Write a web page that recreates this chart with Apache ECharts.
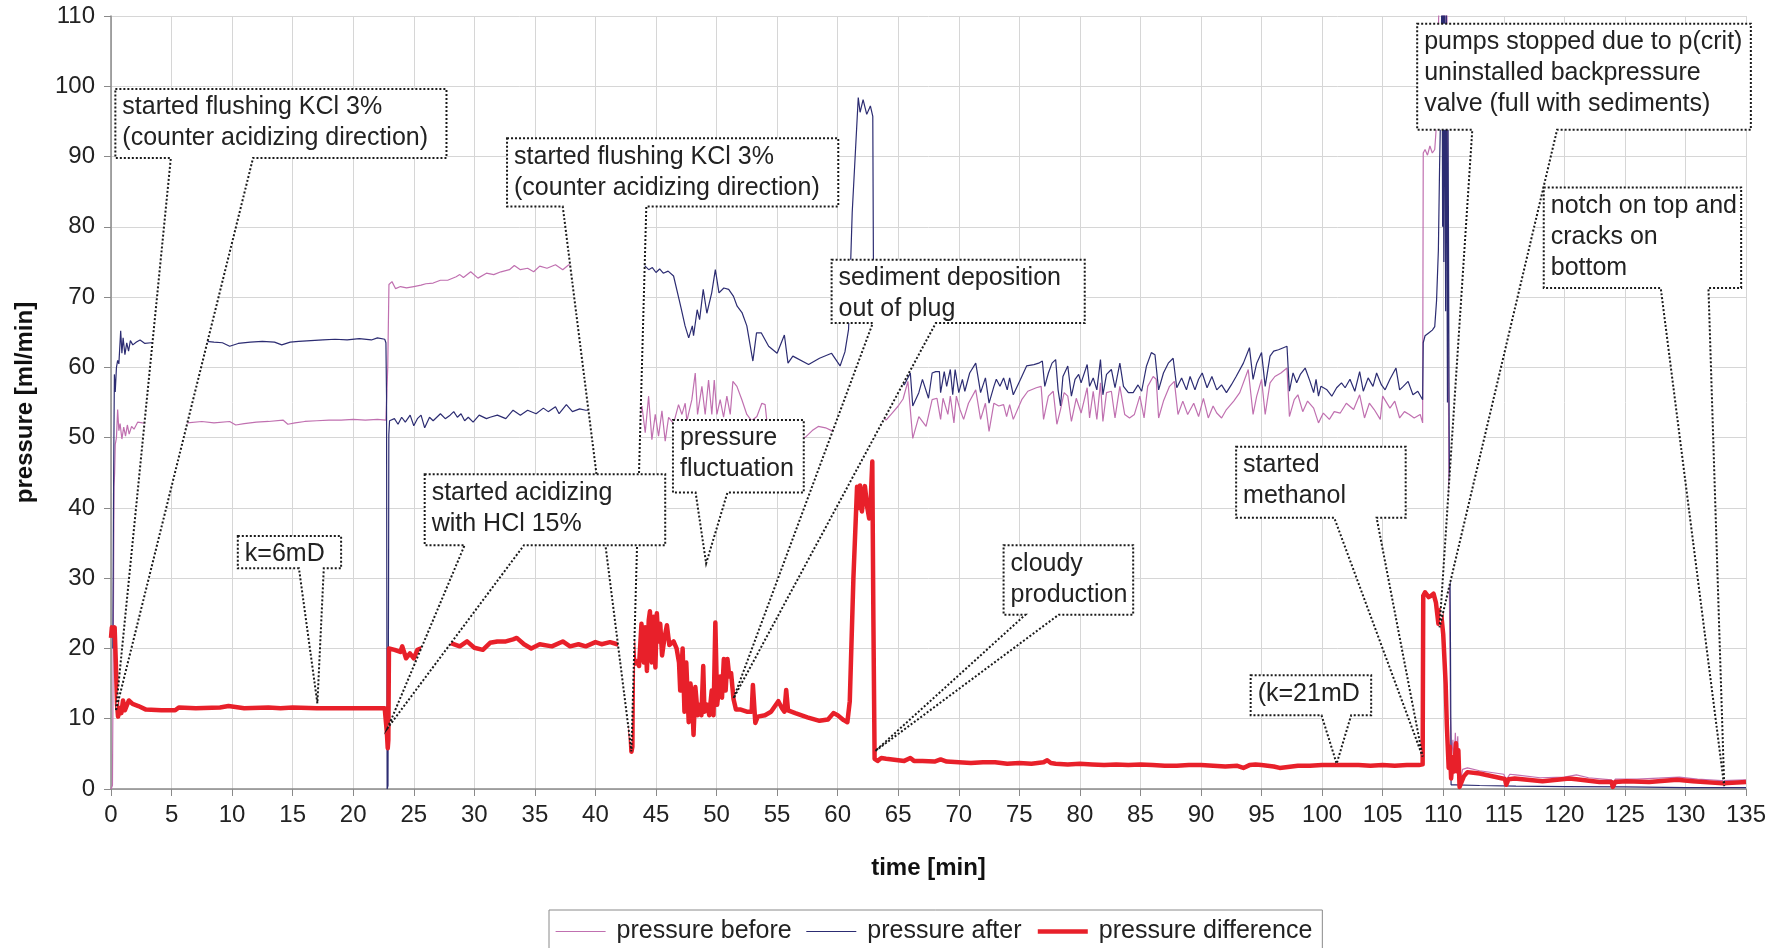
<!DOCTYPE html>
<html><head><meta charset="utf-8">
<script src="https://cdn.jsdelivr.net/npm/echarts@6/dist/echarts.min.js"></script>
<style>html,body{margin:0;padding:0;background:#fff}#c{width:1784px;height:948px}</style>
</head><body><div id="c"></div>
<script>
const FONT = '"Liberation Sans", Arial, sans-serif';
const seriesNames = ['pressure before', 'pressure after', 'pressure difference'];

const pressureBefore = [[0.0,0],[0.12,0.5],[0.2,25],[0.25,43],[0.3,45],[0.35,49],[0.45,50],[0.55,54],[0.65,51],[0.75,52],[0.9,49.8],[1.05,51.5],[1.2,50.2],[1.35,51.8],[1.5,50.5],[1.7,51.6],[1.9,51.2],[2.2,52.2],[2.6,52.1],[3.5,52.0],[5,52.1],[6.3,52.1],[7.5,52.3],[8.5,52.1],[9.8,52.3],[10.3,51.8],[11,52.0],[12,52.2],[13,52.3],[14.2,52.5],[14.6,51.9],[15.2,52.1],[16,52.3],[17,52.4],[18,52.5],[19,52.5],[20,52.6],[21,52.5],[22,52.6],[22.7,52.5],[22.85,60],[22.95,71.8],[23.2,72.2],[23.5,71.2],[23.9,71.5],[24.4,71.3],[25.0,71.5],[25.6,71.7],[26.0,71.9],[26.6,72.0],[27.2,72.4],[27.8,72.4],[28.5,72.9],[28.8,73.2],[29.1,72.8],[29.7,73.6],[30.3,72.7],[31.0,73.4],[31.6,73.2],[32.2,73.6],[32.9,73.9],[33.3,74.5],[33.8,73.9],[34.4,74.1],[34.9,73.6],[35.4,74.4],[36.0,74.1],[36.7,74.6],[37.3,73.9],[37.8,74.6],[38.5,74.3],[40,74.5],[41.5,74.4],[42.5,74.5],[42.9,62],[43.1,53],[43.5,52],[43.84,54.5],[44.11,50.7],[44.39,55.9],[44.66,49.7],[44.94,53.3],[45.21,50.2],[45.49,53.8],[45.76,49.5],[46.04,52.9],[46.45,52.0],[46.86,54.7],[47.14,53.3],[47.41,54.9],[47.55,52.4],[47.96,55.4],[48.24,59.2],[48.43,53.3],[48.79,57.3],[49.06,53.3],[49.34,58.2],[49.61,53.3],[49.81,58.2],[50.03,53.3],[50.3,55.4],[50.58,52.9],[50.85,55.9],[51.13,53.3],[51.35,58.0],[51.68,57.3],[52.09,55.4],[52.5,53.3],[52.9,52.4],[53.33,53.0],[53.74,54.9],[54.01,54.7],[54.15,52.4],[54.6,52.0],[55.5,51.0],[56.5,50.5],[57.3,50.0],[57.9,51.0],[58.4,51.6],[59.0,51.4],[59.5,51.0],[60.2,51.5],[61.0,53],[61.5,55],[62.5,54],[63.0,52],[63.5,53],[64,52.5],[64.5,53.5],[65.0,54.5],[65.4,55.5],[65.8,58.0],[66.2,49.9],[66.7,53.0],[67.3,51.6],[67.8,55.4],[68.2,55.6],[68.5,52.6],[68.7,55.6],[69.1,53.3],[69.3,55.9],[69.6,52.1],[69.8,55.9],[70.1,54.0],[70.4,52.6],[70.8,54.9],[71.4,56.8],[71.8,52.6],[72.2,54.9],[72.5,50.9],[72.9,54.9],[73.3,54.5],[73.7,54.7],[73.95,53.0],[74.2,54.7],[74.5,52.6],[75.2,55.4],[75.7,56.6],[76.4,57.1],[76.8,57.3],[77.0,52.6],[77.4,55.9],[77.8,56.6],[78.1,51.9],[78.4,54.0],[78.7,56.4],[79.0,55.9],[79.3,52.3],[79.7,55.6],[80.1,53.5],[80.6,57.1],[80.8,52.8],[81.1,56.6],[81.4,52.6],[81.7,57.8],[81.9,52.3],[82.2,56.4],[82.6,56.6],[82.9,52.8],[83.3,57.3],[83.7,53.3],[84.1,52.8],[84.5,53.3],[84.95,55.9],[85.3,52.8],[85.6,57.3],[86.05,58.7],[86.3,58.3],[86.5,52.8],[86.9,55.2],[87.4,57.3],[87.8,58.0],[88.1,53.3],[88.5,55.2],[88.9,53.3],[89.4,54.9],[89.8,53.0],[90.2,55.6],[90.6,52.8],[91.0,54.5],[91.3,53.5],[91.7,52.8],[92.1,54.0],[92.7,55.2],[93.2,56.4],[93.9,59.7],[94.3,53.3],[94.6,55.9],[95.0,58.3],[95.3,53.3],[95.7,57.8],[96.1,58.7],[96.6,59.2],[97.1,59.9],[97.3,53.0],[97.7,55.4],[98.0,56.1],[98.4,53.7],[98.8,55.2],[99.3,54.2],[99.7,52.1],[100.1,53.5],[100.6,52.6],[101.0,53.7],[101.5,53.5],[102.0,54.9],[102.6,54.0],[103.1,56.1],[103.5,52.8],[103.9,54.9],[104.3,54.0],[104.8,52.6],[105.0,55.9],[105.6,54.2],[106.0,55.2],[106.4,52.8],[106.8,53.7],[107.2,53.3],[107.6,52.8],[108.1,53.3],[108.3,52.1],[108.35,90.5],[108.5,91.0],[108.7,90.2],[108.9,91.5],[109.1,90.5],[109.3,91.0],[109.4,93.5],[109.5,100],[109.6,108],[109.7,116],[109.8,112],[109.9,116],[110.0,105],[110.1,116],[110.2,100],[110.3,114],[110.4,70],[110.5,30],[110.6,10],[110.7,5],[110.8,7],[110.9,3.5],[111.0,8],[111.1,4],[111.2,7.5],[111.3,1.5],[111.4,1.0],[111.6,2.8],[112,3.0],[113,2.6],[115,2.1],[115.2,1.3],[115.5,2.1],[116,2.0],[118,1.6],[120,1.7],[121,2.0],[122,1.6],[123.9,1.3],[124.0,0.6],[124.2,1.4],[126,1.4],[129.5,1.7],[131,1.4],[133,1.2],[135,1.3]];

const pressureAfter = [[0.15,20],[0.22,45],[0.28,59],[0.35,56.5],[0.45,60],[0.55,61],[0.65,60.5],[0.8,65.2],[0.9,62],[1.0,64.2],[1.15,61.8],[1.3,63.5],[1.45,62.3],[1.6,63.8],[1.8,63.2],[2.1,63.6],[2.4,63.9],[2.8,63.4],[3.3,63.5],[5,63.6],[7.9,63.7],[8.5,63.6],[9.2,63.5],[9.8,63.0],[10.5,63.4],[11.5,63.6],[12.5,63.7],[13.5,63.6],[14.1,63.2],[14.8,63.6],[15.5,63.7],[16.5,63.8],[17.5,63.9],[18.5,64.0],[19.5,63.9],[20.5,64.1],[21.5,63.9],[22.0,64.2],[22.6,64.0],[22.7,63.5],[22.75,56],[22.8,0],[22.87,0.5],[22.92,30],[22.94,50.4],[23.0,52.4],[23.4,52.7],[23.7,51.9],[24.0,52.9],[24.3,52.2],[24.7,53.2],[25.0,51.7],[25.3,52.7],[25.6,53.2],[25.9,51.4],[26.3,52.9],[26.6,52.4],[26.9,52.9],[27.2,53.4],[27.6,52.7],[28.0,53.2],[28.3,53.7],[28.6,52.9],[28.9,53.4],[29.2,52.4],[29.5,52.9],[29.9,52.2],[30.4,53.2],[31.0,52.7],[31.3,52.9],[31.9,53.2],[32.6,52.7],[33.2,53.9],[33.8,53.2],[34.4,53.9],[35.1,53.4],[35.7,54.2],[36.1,53.7],[36.7,54.4],[37.0,53.4],[37.6,54.7],[38.1,53.7],[38.7,54.1],[39.2,53.9],[40.5,54.0],[42.0,54.1],[42.85,52],[42.95,60],[43.1,74],[43.5,74.8],[44.1,74.4],[44.4,73.9],[44.7,74.2],[45.0,73.5],[45.3,74.0],[45.6,73.4],[46.0,73.7],[46.45,73.0],[46.9,69.7],[47.1,68.2],[47.4,65.9],[47.7,64.2],[48.0,65.9],[48.1,64.5],[48.4,68.2],[48.6,66.8],[48.9,71.1],[49.2,67.7],[49.6,70.6],[49.9,73.9],[50.2,70.6],[50.6,71.3],[51.0,71.1],[51.4,70.1],[51.7,68.7],[52.1,67.8],[52.5,65.9],[53.0,60.9],[53.3,64.9],[53.7,64.9],[54.3,63.0],[55.0,62.0],[55.6,64.6],[55.9,60.6],[56.3,61.6],[57.6,60.4],[58.5,61.3],[59.5,62.0],[60.2,60.2],[60.6,62.2],[60.9,65.4],[61.2,82.0],[61.7,98.4],[61.85,96.3],[62.1,98.1],[62.4,96.0],[62.7,97.2],[62.9,95.7],[62.95,75.8],[63.1,57],[63.5,56],[64.0,57.5],[64.5,56.5],[65.0,58.5],[65.5,57.5],[66.0,59.2],[66.2,54.5],[66.7,56.4],[67.0,58.3],[67.5,55.6],[67.8,59.2],[68.1,59.4],[68.4,59.4],[68.5,56.4],[68.8,59.4],[69.0,57.3],[69.3,59.7],[69.5,56.1],[69.7,59.7],[70.0,56.4],[70.3,58.3],[70.5,56.6],[70.9,59.2],[71.4,60.6],[71.8,56.4],[72.2,58.5],[72.5,54.9],[72.9,57.3],[73.1,58.3],[73.4,57.3],[73.7,58.5],[74.0,56.8],[74.2,58.5],[74.5,56.1],[75.1,58.3],[75.6,60.2],[76.2,60.4],[76.6,60.6],[76.9,60.9],[77.1,57.3],[77.4,59.2],[77.7,60.6],[78.0,61.1],[78.2,56.8],[78.4,54.5],[78.6,58.7],[79.0,60.2],[79.3,55.9],[79.6,58.3],[79.9,59.0],[80.1,57.8],[80.6,60.4],[80.8,57.3],[81.1,58.5],[81.4,56.8],[81.7,61.1],[81.9,56.1],[82.2,59.0],[82.6,59.7],[82.9,57.1],[83.3,60.6],[83.6,57.3],[84.0,56.4],[84.4,56.4],[84.8,57.5],[85.1,56.6],[85.5,60.2],[85.9,62.1],[86.2,61.8],[86.5,56.8],[86.9,59.2],[87.3,60.6],[87.7,61.3],[88.0,57.1],[88.4,58.5],[88.8,56.8],[89.1,58.7],[89.5,56.8],[89.8,58.3],[90.1,59.2],[90.5,57.1],[90.9,58.7],[91.3,56.8],[91.7,57.5],[92.1,56.4],[92.5,57.5],[92.9,58.7],[93.5,60.6],[94.0,62.8],[94.3,58.3],[94.6,60.6],[95.0,62.1],[95.3,57.3],[95.7,61.6],[96.0,62.3],[96.4,62.5],[96.8,62.8],[97.1,63.0],[97.3,56.6],[97.6,59.2],[97.9,57.8],[98.2,59.0],[98.6,59.9],[99.0,58.0],[99.3,56.4],[99.5,58.3],[99.7,55.9],[99.9,57.3],[100.4,56.8],[100.8,55.9],[101.2,57.1],[101.6,57.8],[101.9,57.1],[102.3,58.3],[102.7,56.6],[103.1,59.4],[103.4,56.6],[103.8,58.5],[104.2,57.3],[104.5,59.2],[104.9,57.5],[105.2,56.8],[105.6,58.3],[106.1,59.9],[106.4,56.8],[106.7,57.3],[107.1,58.0],[107.5,56.1],[107.9,56.6],[108.3,55.4],[108.35,63.5],[108.5,64.5],[108.8,64.9],[109.1,65.3],[109.3,65.8],[109.45,69.5],[109.6,76.7],[109.7,88.6],[109.8,98],[109.9,116],[109.95,80],[110.0,116],[110.05,75],[110.1,116],[110.2,68],[110.25,114],[110.35,55],[110.4,95],[110.5,48],[110.6,20],[110.65,0.6],[111,0.6],[113,0.5],[116,0.4],[120,0.35],[125,0.3],[130,0.2],[135,0.2]];

const pressureDifference = [[0.0,21.5],[0.07,23],[0.2,22],[0.3,23],[0.4,18],[0.5,12],[0.58,10.3],[0.75,11.5],[0.85,10.8],[0.99,12.6],[1.15,11.2],[1.47,12.6],[1.78,12.1],[2.26,11.8],[2.89,11.3],[4.15,11.2],[5.3,11.2],[5.6,11.6],[7,11.5],[9,11.6],[9.7,11.8],[11,11.5],[13,11.6],[14,11.5],[15,11.6],[17,11.5],[19,11.5],[21,11.5],[22.6,11.5],[22.7,11.4],[22.78,8],[22.85,5.8],[22.9,7],[22.95,20],[23.42,19.8],[23.89,19.5],[24.05,20.3],[24.36,18.6],[24.68,19.3],[25.0,18.6],[25.3,19.8],[25.6,20.0],[26.5,20.3],[27.3,20.5],[28.0,20.8],[28.8,20.3],[29.4,21.0],[30.0,20.1],[30.7,19.8],[31.3,20.8],[31.9,21.0],[32.6,21.0],[33.2,21.3],[33.5,21.5],[34.1,20.6],[34.7,20.0],[35.4,20.6],[36.4,20.3],[37.3,21.0],[37.9,20.3],[38.6,20.6],[39.2,20.3],[40.0,20.9],[40.5,20.6],[41.2,20.9],[41.8,20.6],[42.4,20.7],[42.8,18],[42.9,8],[42.97,5.3],[43.05,6],[43.1,21],[43.2,17.8],[43.4,18.2],[43.6,17.5],[43.8,23.5],[44.0,18],[44.1,23],[44.25,16.8],[44.4,24],[44.5,25.3],[44.65,18],[44.8,24.5],[44.95,17.3],[45.07,25],[45.2,21],[45.35,23.5],[45.5,19],[45.7,21.5],[45.9,23.3],[46.1,20.5],[46.45,21],[46.7,20],[46.9,18],[47.0,14],[47.2,20],[47.35,11],[47.5,18],[47.7,9.5],[47.85,15],[48.0,12],[48.1,7.7],[48.25,14.5],[48.45,10.5],[48.6,12],[48.75,10.5],[48.9,17.5],[49.0,11],[49.2,12],[49.4,10.5],[49.6,14],[49.75,10.5],[49.9,23.7],[50.05,12],[50.3,16],[50.45,13],[50.6,18.5],[50.75,14],[50.9,18.5],[51.05,16],[51.2,16.5],[51.4,12.8],[51.6,11.3],[52.0,11.3],[52.5,11.0],[52.9,11.0],[53.0,14.8],[53.2,9.4],[53.4,10.3],[54.0,10.5],[54.5,11.0],[55.1,12.5],[55.4,11.5],[55.6,11.0],[55.75,14.1],[55.9,11.2],[56.5,10.8],[57.5,10.2],[58.5,9.7],[59.2,9.9],[59.65,10.8],[60.0,10.5],[60.5,9.8],[60.8,9.5],[61.0,12.5],[61.3,30],[61.6,43.0],[61.75,40],[61.85,43.2],[62.0,39.5],[62.25,43.1],[62.45,40],[62.6,38.5],[62.7,40],[62.86,46.6],[62.95,24],[63.05,4.3],[63.3,4.0],[63.6,4.4],[64.0,4.3],[64.5,4.2],[65.0,4.1],[65.5,4.0],[66.0,4.4],[66.3,4.0],[67,4.0],[68,3.9],[68.5,4.2],[69,3.9],[70,3.8],[71,3.7],[72,3.8],[73,3.8],[74,3.6],[75,3.7],[76,3.6],[77,3.8],[77.3,4.1],[77.6,3.7],[78,3.6],[79,3.5],[80,3.6],[81,3.5],[82,3.4],[83,3.5],[84,3.4],[85,3.5],[86,3.4],[87,3.3],[88,3.3],[89,3.4],[90,3.4],[91,3.3],[92,3.2],[93,3.3],[93.5,3.0],[94,3.4],[94.5,3.5],[95,3.4],[96,3.2],[96.5,3.0],[97,3.1],[98,3.3],[99,3.3],[100,3.4],[101,3.4],[102,3.4],[103,3.4],[104,3.3],[105,3.4],[106,3.3],[107,3.4],[108,3.4],[108.3,3.5],[108.35,27.5],[108.5,28.0],[108.8,27.3],[109.0,27.5],[109.2,27.8],[109.4,26.5],[109.6,23.5],[109.8,25.5],[110.0,22],[110.2,15],[110.3,9],[110.45,3],[110.55,6],[110.65,1.5],[110.8,4.5],[110.9,2.5],[111.05,6.5],[111.15,2.5],[111.25,5.5],[111.35,0.3],[111.5,0.5],[111.7,1.8],[112.0,2.4],[113,2.2],[114.9,1.5],[115.1,1.4],[115.2,0.6],[115.4,1.4],[115.9,1.5],[118.2,1.1],[120.4,1.5],[121,1.4],[122.9,1.0],[123.9,1.0],[124.0,0.3],[124.2,1.0],[125.1,1.1],[127,1.0],[129.3,1.3],[130.6,1.1],[133.1,0.8],[135,1.0]];

// Callout annotations in data units: box [x0, yTop, x1, yBottom], wedge base x's on box bottom, target point.
const calloutTexts = [
  'started flushing KCl 3%\n(counter acidizing direction)',
  'started flushing KCl 3%\n(counter acidizing direction)',
  'started acidizing\nwith HCl 15%',
  'pressure\nfluctuation',
  'sediment deposition\nout of plug',
  'cloudy\nproduction',
  'k=6mD',
  'started\nmethanol',
  '(k=21mD',
  'pumps stopped due to p(crit)\nuninstalled backpressure\nvalve (full with sediments)',
  'notch on top and\ncracks on\nbottom'
];
const calloutBoxes = [
  [0.36, 99.6, 27.7, 89.8],
  [32.7, 92.6, 60.05, 82.9],
  [25.9, 44.8, 45.76, 34.7],
  [46.4, 52.5, 57.2, 42.2],
  [59.5, 75.3, 80.4, 66.3],
  [73.7, 34.7, 84.4, 24.8],
  [10.47, 36.0, 19.0, 31.4],
  [92.9, 48.7, 106.9, 38.6],
  [94.1, 16.2, 104.05, 10.5],
  [107.85, 108.9, 135.4, 93.8],
  [118.3, 85.6, 134.6, 71.3]
];
const calloutBases = [[4.94, 11.73],[37.3, 44.2],[29.2, 34.1],[48.27, 50.9],[62.9, 68.1],[75.5, 78.25],[15.52, 17.57],[101.0, 104.5],[99.95, 102.4],[112.4, 119.4],[127.96, 131.9]];
const calloutTargets = [[0.4, 11.1],[42.97, 5.36],[22.85, 8.7],[49.14, 32.1],[51.4, 12.9],[63.1, 5.4],[17.04, 12.2],[108.3, 4.6],[101.2, 3.6],[109.7, 23.0],[133.2, 0.4]];

const chart = echarts.init(document.getElementById('c'), null, {renderer: 'canvas'});

function renderCallout(params, api) {
  const i = params.dataIndex;
  const b = calloutBoxes[i];
  const tl = api.coord([b[0], b[1]]);
  const br = api.coord([b[2], b[3]]);
  const b1 = api.coord([calloutBases[i][0], b[3]]);
  const b2 = api.coord([calloutBases[i][1], b[3]]);
  const tp = api.coord(calloutTargets[i]);
  const pts = [[tl[0], tl[1]], [br[0], tl[1]], [br[0], br[1]], [b2[0], br[1]], tp, [b1[0], br[1]], [tl[0], br[1]]];
  return {
    type: 'group',
    children: [
      {type: 'polygon', shape: {points: pts}, style: {fill: '#ffffff', stroke: '#1a1a1a', lineWidth: 2, lineDash: [2, 2]}},
      {type: 'text', x: tl[0] + 7, y: tl[1] + 3,
       style: {text: calloutTexts[i], fill: '#222', fontSize: 25, fontFamily: FONT, lineHeight: 31, align: 'left', verticalAlign: 'top'}}
    ]
  };
}

const axisColor = '#8a8a8a';
const option = {
  animation: false,
  backgroundColor: '#ffffff',
  textStyle: {fontFamily: FONT},
  grid: {left: 111, right: 38, top: 16, bottom: 159, containLabel: false, outerBoundsMode: 'none'},
  legend: {
    data: [
      {name: seriesNames[0], lineStyle: {width: 1.2}},
      {name: seriesNames[1], lineStyle: {width: 1.2}},
      {name: seriesNames[2], lineStyle: {width: 4.5}}
    ],
    left: 549, top: 910,
    itemWidth: 50, itemHeight: 14, itemGap: 14,
    padding: [9, 10, 9, 6],
    borderColor: '#8a8a8a', borderWidth: 1, backgroundColor: '#ffffff',
    itemStyle: {opacity: 0, borderWidth: 0},
    textStyle: {fontSize: 25, color: '#222', fontFamily: FONT, padding: [0, 0, 0, 6]}
  },
  xAxis: {
    type: 'value', min: 0, max: 135, interval: 5,
    name: 'time [min]', nameLocation: 'middle', nameGap: 67,
    nameTextStyle: {fontSize: 24, fontWeight: 'bold', color: '#111', fontFamily: FONT},
    axisLine: {show: true, onZero: false, lineStyle: {color: axisColor, width: 1.5}},
    axisTick: {show: true, length: 7, lineStyle: {color: axisColor}},
    axisLabel: {fontSize: 24, color: '#222', margin: 14, fontFamily: FONT, hideOverlap: false},
    splitLine: {show: true, lineStyle: {color: '#d6d6d6', width: 1}}
  },
  yAxis: {
    type: 'value', min: 0, max: 110, interval: 10,
    name: 'pressure [ml/min]', nameLocation: 'middle', nameGap: 74,
    nameTextStyle: {fontSize: 24, fontWeight: 'bold', color: '#111', fontFamily: FONT},
    axisLine: {show: true, lineStyle: {color: axisColor, width: 1.5}},
    axisTick: {show: true, length: 7, lineStyle: {color: axisColor}},
    axisLabel: {fontSize: 24, color: '#222', margin: 16, fontFamily: FONT},
    splitLine: {show: true, lineStyle: {color: '#d6d6d6', width: 1}}
  },
  series: [
    {name: seriesNames[0], type: 'line', data: pressureBefore, symbol: 'none', showSymbol: false,
     color: '#c070b0', lineStyle: {width: 1.2, color: '#c070b0'}, z: 2},
    {name: seriesNames[1], type: 'line', data: pressureAfter, symbol: 'none', showSymbol: false,
     color: '#2c2c72', lineStyle: {width: 1.2, color: '#2c2c72'}, z: 2},
    {name: seriesNames[2], type: 'line', data: pressureDifference, symbol: 'none', showSymbol: false,
     color: '#e8202a', lineStyle: {width: 4.5, color: '#e8202a', join: 'round'}, z: 3},
    {type: 'custom', renderItem: renderCallout, data: calloutBoxes.map(b => [b[0], b[1]]),
     encode: {x: 0, y: 1}, clip: false, z: 10, silent: true}
  ]
};
chart.setOption(option);
</script>
</body></html>
